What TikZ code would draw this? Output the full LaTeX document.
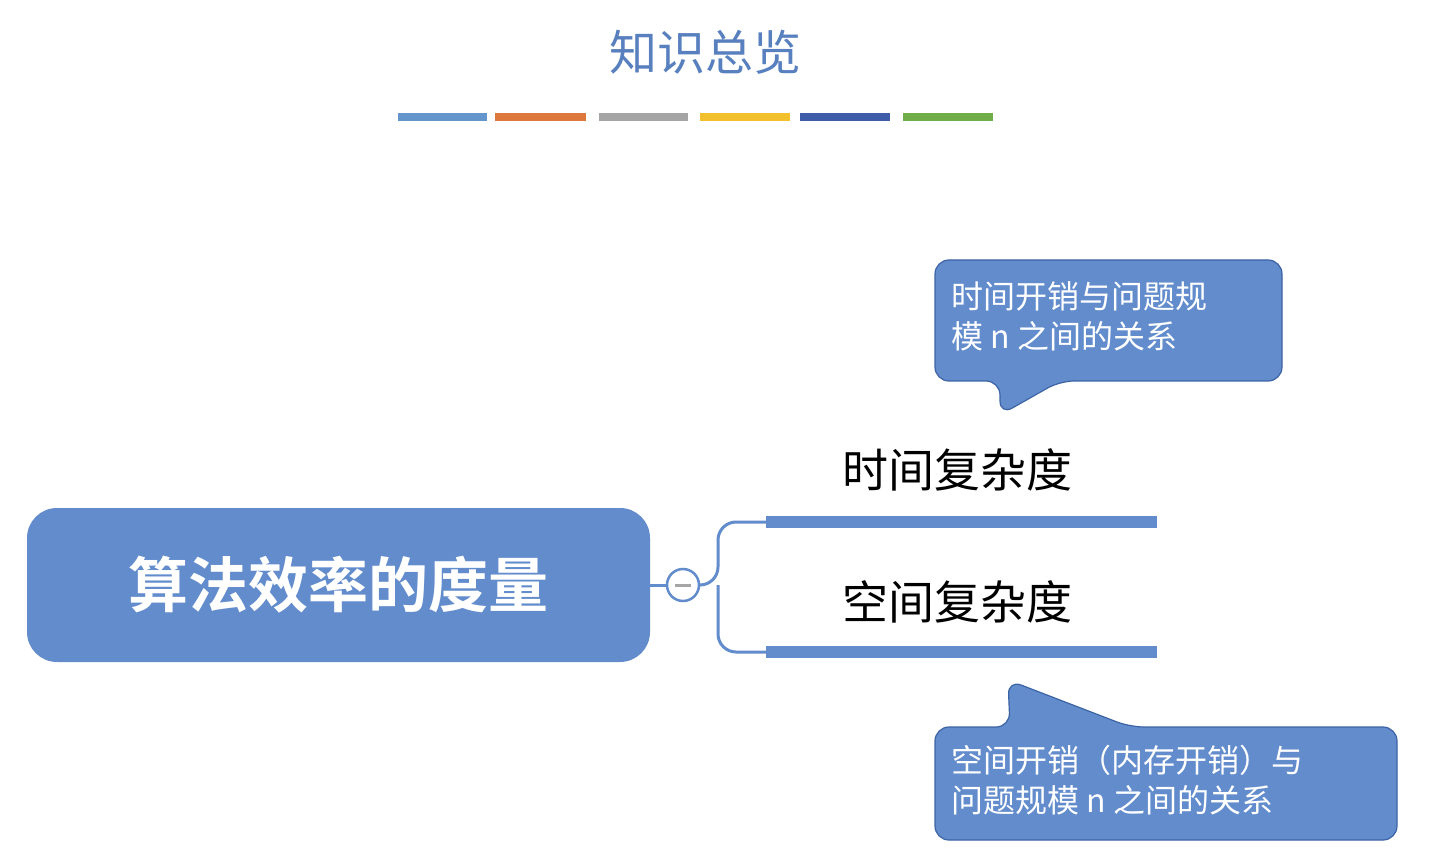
\documentclass[tikz,border=0pt]{standalone}
\usepackage{fontspec}
\newfontfamily\cjk{Noto Sans CJK SC}
\newfontfamily\cjkb{Noto Sans CJK SC Bold}
\definecolor{mainblue}{RGB}{98,140,204}
\definecolor{titleblue}{RGB}{88,128,190}
\definecolor{edgeblue}{RGB}{60,100,165}
\definecolor{bA}{RGB}{100,150,205}
\definecolor{bB}{RGB}{220,120,60}
\definecolor{bC}{RGB}{165,165,165}
\definecolor{bD}{RGB}{242,192,45}
\definecolor{bE}{RGB}{62,92,170}
\definecolor{bF}{RGB}{112,172,72}
\tikzset{
  bar/.style={line width=8pt},
  branch/.style={line width=12pt,mainblue},
  leaf/.style={font=\cjk\fontsize{46}{50}\selectfont,text=black},
  call/.style={fill=mainblue,draw=edgeblue,line width=1.2pt,rounded corners=14pt},
  calltext/.style={font=\cjk\fontsize{32}{40}\selectfont,text=white,align=left,anchor=north west}
}
\begin{document}
\begin{tikzpicture}[x=1pt,y=-1pt]
\useasboundingbox[fill=white] (0,0) rectangle (1456,866);
\node[font=\cjk\fontsize{48}{52}\selectfont,text=titleblue] (title) at (705,52) {知识总览};
\foreach \a/\b/\c in {398/487/bA,495/586/bB,599/688/bC,700/790/bD,800/890/bE,903/993/bF}
  \draw[bar,\c] (\a,117) -- (\b,117);
\node[fill=mainblue,rounded corners=30pt,minimum width=623pt,minimum height=154pt,
  font=\cjkb\fontsize{60}{64}\selectfont,text=white] (main) at (338.5,585) {算法效率的度量};
\node[circle,draw=mainblue,line width=2.5pt,fill=white,minimum size=32pt,inner sep=0pt] (minus) at (683,585) {};
\draw[line width=3pt,gray!70] (675,585) -- (691,585);
\coordinate (t1) at (766,522);
\coordinate (t2) at (1157,522);
\coordinate (s1) at (766,652);
\coordinate (s2) at (1157,652);
\draw[mainblue,line width=3pt] (main.east) -- (minus.west);
\draw[mainblue,line width=3pt,rounded corners=18pt] (minus.east) -- (718,585) |- (t1);
\draw[mainblue,line width=3pt,rounded corners=18pt] (718,585) |- (s1);
\draw[branch] (t1) -- (t2);
\draw[branch] (s1) -- (s2);
\node[leaf] (time) at (957,470) {时间复杂度};
\node[leaf] (space) at (957,602) {空间复杂度};
\draw[call] (935,260) -- (1282,260) -- (1282,381) -- (1060,381) -- (1000,415) -- (1000,381) -- (935,381) -- cycle;
\node[calltext] (c1) at (948,278) {时间开销与问题规\\模 n 之间的关系};
\draw[call] (935,727) -- (1010,727) -- (1008,680) -- (1130,727) -- (1397,727) -- (1397,840) -- (935,840) -- cycle;
\node[calltext] (c2) at (948,742) {空间开销（内存开销）与\\问题规模 n 之间的关系};
\end{tikzpicture}
\end{document}
